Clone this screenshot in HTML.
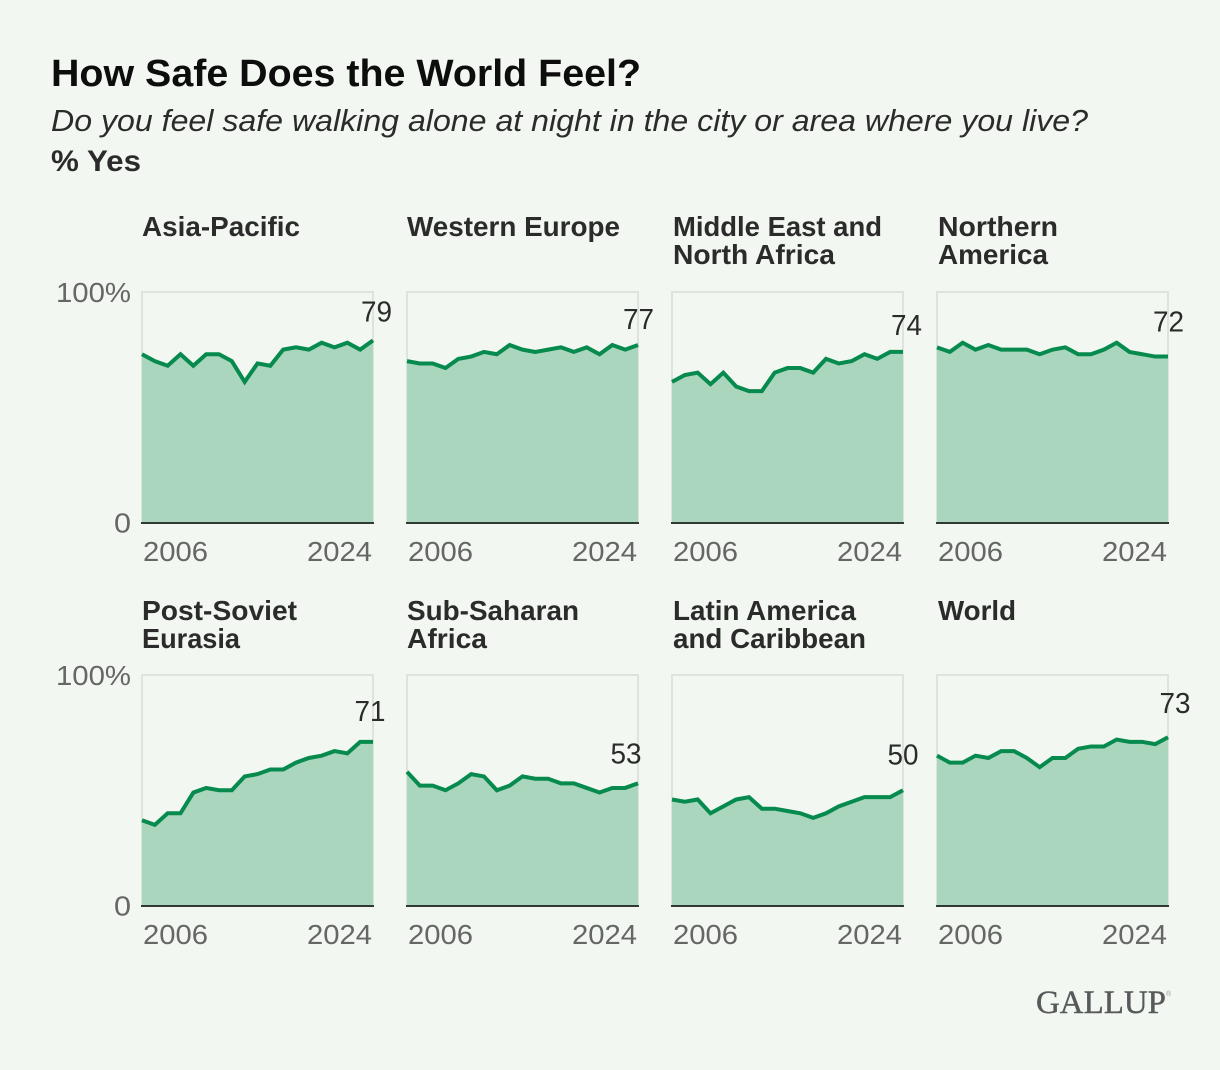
<!DOCTYPE html>
<html lang="en">
<head>
<meta charset="utf-8">
<title>How Safe Does the World Feel?</title>
<style>
html,body{margin:0;padding:0;background:#f2f8f1;width:1220px;height:1070px;overflow:hidden}
svg{display:block;font-family:"Liberation Sans",sans-serif}
.facet{font-weight:700;font-size:27.5px;fill:#2b2b2b}
</style>
</head>
<body>
<svg id="chart" width="1220" height="1070" viewBox="0 0 1220 1070" xmlns="http://www.w3.org/2000/svg">
  <rect x="0" y="0" width="1220" height="1070" fill="#f2f8f1"/>
  <text x="51" y="86" font-size="38" font-weight="700" fill="#0d0d0d" textLength="590" lengthAdjust="spacingAndGlyphs">How Safe Does the World Feel?</text>
  <text x="51" y="131" font-size="31" font-style="italic" fill="#2b2b2b" textLength="1037" lengthAdjust="spacingAndGlyphs">Do you feel safe walking alone at night in the city or area where you live?</text>
  <text x="51" y="171" font-size="30" font-weight="700" fill="#2b2b2b" textLength="90" lengthAdjust="spacingAndGlyphs">% Yes</text>

  <text class="facet" x="142" y="236" textLength="158" lengthAdjust="spacingAndGlyphs">Asia-Pacific</text>
  <text class="facet" x="407" y="236" textLength="213" lengthAdjust="spacingAndGlyphs">Western Europe</text>
  <text class="facet" x="673" y="236" textLength="209" lengthAdjust="spacingAndGlyphs">Middle East and</text>
  <text class="facet" x="673" y="264" textLength="162" lengthAdjust="spacingAndGlyphs">North Africa</text>
  <text class="facet" x="938" y="236" textLength="120" lengthAdjust="spacingAndGlyphs">Northern</text>
  <text class="facet" x="938" y="264" textLength="110" lengthAdjust="spacingAndGlyphs">America</text>
  <text class="facet" x="142" y="620" textLength="155" lengthAdjust="spacingAndGlyphs">Post-Soviet</text>
  <text class="facet" x="142" y="648" textLength="98" lengthAdjust="spacingAndGlyphs">Eurasia</text>
  <text class="facet" x="407" y="620" textLength="172" lengthAdjust="spacingAndGlyphs">Sub-Saharan</text>
  <text class="facet" x="407" y="648" textLength="80" lengthAdjust="spacingAndGlyphs">Africa</text>
  <text class="facet" x="673" y="620" textLength="183" lengthAdjust="spacingAndGlyphs">Latin America</text>
  <text class="facet" x="673" y="648" textLength="193" lengthAdjust="spacingAndGlyphs">and Caribbean</text>
  <text class="facet" x="938" y="620" textLength="78" lengthAdjust="spacingAndGlyphs">World</text>

  <g id="marks"></g>

  <text x="1036" y="1013" font-family="'Liberation Serif',serif" font-size="33" fill="#58595b" stroke="#58595b" stroke-width="0.4" textLength="130" lengthAdjust="spacingAndGlyphs">GALLUP</text>
  <text x="1166" y="996" font-size="7" fill="#9a9a9a">®</text>
</svg>
<script>
const years = [2006,2007,2008,2009,2010,2011,2012,2013,2014,2015,2016,2017,2018,2019,2020,2021,2022,2023,2024];
const xTickLabels = [2006, 2024];
const yTickLabels = [100, 0];

const asiaPacific = [73,70,68,73,68,73,73,70,61,69,68,75,76,75,78,76,78,75,79];
const westernEurope = [70,69,69,67,71,72,74,73,77,75,74,75,76,74,76,73,77,75,77];
const middleEastNorthAfrica = [61,64,65,60,65,59,57,57,65,67,67,65,71,69,70,73,71,74,74];
const northernAmerica = [76,74,78,75,77,75,75,75,73,75,76,73,73,75,78,74,73,72,72];
const postSovietEurasia = [37,35,40,40,49,51,50,50,56,57,59,59,62,64,65,67,66,71,71];
const subSaharanAfrica = [58,52,52,50,53,57,56,50,52,56,55,55,53,53,51,49,51,51,53];
const latinAmericaCaribbean = [46,45,46,40,43,46,47,42,42,41,40,38,40,43,45,47,47,47,50];
const world = [65,62,62,65,64,67,67,64,60,64,64,68,69,69,72,71,71,70,73];

const SVGNS = 'http://www.w3.org/2000/svg';
const root = document.getElementById('marks');
const PLOT_W = 231;
const PLOT_H = 230.5;
const COLUMN_LEFT = [142, 407, 672, 937];
const ROW_TOP = [292, 675];
const layout = [
  {key:'asia-pacific', s:asiaPacific, c:0, r:0, dx:3.5, dy:-19},
  {key:'western-europe', s:westernEurope, c:1, r:0, dx:0.5, dy:-16},
  {key:'middle-east-north-africa', s:middleEastNorthAfrica, c:2, r:0, dx:3.5, dy:-17},
  {key:'northern-america', s:northernAmerica, c:3, r:0, dx:0.5, dy:-25},
  {key:'post-soviet-eurasia', s:postSovietEurasia, c:0, r:1, dx:-3, dy:-21},
  {key:'sub-saharan-africa', s:subSaharanAfrica, c:1, r:1, dx:-12, dy:-20},
  {key:'latin-america-caribbean', s:latinAmericaCaribbean, c:2, r:1, dx:0, dy:-26},
  {key:'world', s:world, c:3, r:1, dx:7, dy:-24}
];

function make(tag, attrs, parent, text) {
  const el = document.createElementNS(SVGNS, tag);
  for (const k in attrs) el.setAttribute(k, attrs[k]);
  if (text !== undefined) el.textContent = text;
  parent.appendChild(el);
  return el;
}

layout.forEach(function (p) {
  const left = COLUMN_LEFT[p.c];
  const top = ROW_TOP[p.r];
  const bottom = top + PLOT_H;
  const xScale = function (year) {
    return left + (year - years[0]) / (years[years.length - 1] - years[0]) * PLOT_W;
  };
  const yScale = function (v) {
    return bottom - v / 100 * PLOT_H;
  };

  const g = make('g', {}, root);
  
  

  const frame = make('path', {
    d: 'M' + left + ' ' + bottom + 'V' + top + 'H' + (left + PLOT_W) + 'V' + bottom,
    fill: 'none', stroke: '#dce4dc', 'stroke-width': 2
  }, g);
  
  

  const pts = p.s.map(function (v, i) {
    return xScale(years[i]).toFixed(2) + ',' + yScale(v).toFixed(2);
  });

  const area = make('polygon', {
    points: left + ',' + bottom + ' ' + pts.join(' ') + ' ' + (left + PLOT_W) + ',' + bottom,
    fill: '#a9d6bd'
  }, g);
  
  

  const line = make('polyline', {
    points: pts.join(' '), fill: 'none', stroke: '#068a4e',
    'stroke-width': 4, 'stroke-linejoin': 'miter', 'stroke-linecap': 'butt'
  }, g);
  
  

  const axis = make('line', {
    x1: left - 1, x2: left + PLOT_W + 1, y1: bottom + 0.5, y2: bottom + 0.5,
    stroke: '#2f3a33', 'stroke-width': 2
  }, g);
  
  

  const last = p.s[p.s.length - 1];
  const valueLabel = make('text', {
    x: left + PLOT_W + p.dx, y: yScale(last) + p.dy, 'text-anchor': 'middle',
    'font-size': 29, fill: '#2b2b2b', textLength: 31, lengthAdjust: 'spacingAndGlyphs'
  }, g, String(last));
  
  

  const firstTick = make('text', {
    x: xScale(xTickLabels[0]) + 1, y: bottom + 38.5, 'font-size': 28, fill: '#666666',
    textLength: 65, lengthAdjust: 'spacingAndGlyphs'
  }, g, String(xTickLabels[0]));
  
  

  const lastTick = make('text', {
    x: xScale(xTickLabels[1]) - 66, y: bottom + 38.5, 'font-size': 28, fill: '#666666',
    textLength: 65, lengthAdjust: 'spacingAndGlyphs'
  }, g, String(xTickLabels[1]));
  
  

  if (p.c === 0) {
    yTickLabels.forEach(function (t) {
      const isMax = t === 100;
      const tick = make('text', {
        x: left - 11, y: yScale(t) + 10, 'text-anchor': 'end', 'font-size': 28, fill: '#666666',
        textLength: isMax ? 75 : 17, lengthAdjust: 'spacingAndGlyphs'
      }, g, isMax ? t + '%' : String(t));
      
      
    });
  }
});
</script>
</body>
</html>
